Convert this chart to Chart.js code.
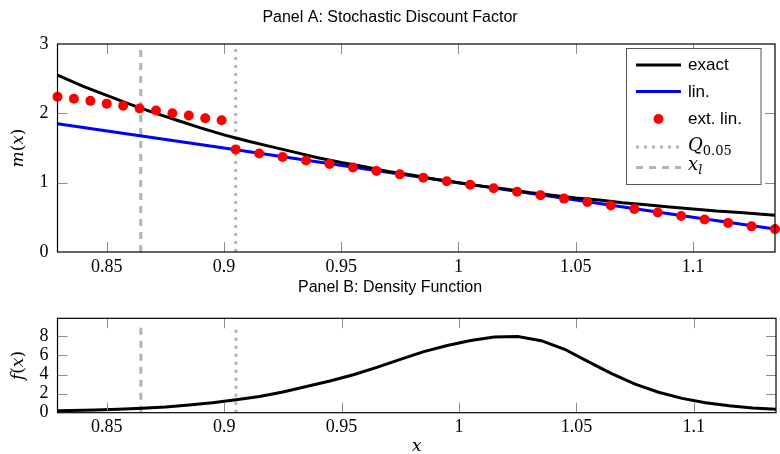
<!DOCTYPE html>
<html>
<head>
<meta charset="utf-8">
<script src="https://cdn.jsdelivr.net/npm/chart.js@4.4.1/dist/chart.umd.min.js"></script>
<style>
  body { margin: 0; background: #fff; width: 780px; height: 454px; position: relative; overflow: hidden; }
  #wrapA { position: absolute; left: 0; top: 0; width: 780px; height: 280px; }
  #wrapB { position: absolute; left: 0; top: 270px; width: 780px; height: 184px; }
</style>
</head>
<body>
<div id="wrapA"><canvas id="chartA"></canvas></div>
<div id="wrapB"><canvas id="chartB"></canvas></div>
<script>
// Axis ranges and ticks
const X_MIN = 0.829;
const X_MAX = 1.135;
const X_TICKS = [0.85, 0.9, 0.95, 1, 1.05, 1.1];
const M_MAX = 3;
const M_TICKS = [0, 1, 2, 3];
const F_MAX = 9.9;
const F_TICKS = [0, 2, 4, 6, 8];

// Panel A: exact SDF
const exactX = [0.829, 0.84, 0.85, 0.86, 0.87, 0.88, 0.89, 0.9, 0.91, 0.92, 0.93, 0.94, 0.95, 0.96, 0.97, 0.98,
                0.99, 1.0, 1.01, 1.02, 1.03, 1.04, 1.05, 1.06, 1.07, 1.08, 1.09, 1.1, 1.11, 1.12, 1.135];
const exactY = [2.55, 2.39, 2.26, 2.13, 2.01, 1.90, 1.79, 1.69, 1.60, 1.52, 1.44, 1.36, 1.29, 1.23, 1.16, 1.11,
                1.05, 1.00, 0.95, 0.91, 0.86, 0.82, 0.78, 0.75, 0.71, 0.68, 0.65, 0.62, 0.59, 0.57, 0.53];

// Panel A: linearisation
const linX = [0.829, 0.9, 1.0, 1.1, 1.135];
const linY = [1.85, 1.50, 1.00, 0.50, 0.33];

// Panel A: extended linearisation (markers)
const extX = [0.829, 0.836, 0.843, 0.85, 0.857, 0.864, 0.871, 0.878, 0.885, 0.892, 0.899,
              0.905, 0.915, 0.925, 0.935, 0.945, 0.955, 0.965, 0.975, 0.985, 0.995, 1.005, 1.015,
              1.025, 1.035, 1.045, 1.055, 1.065, 1.075, 1.085, 1.095, 1.105, 1.115, 1.125, 1.135];
const extY = [2.24, 2.21, 2.18, 2.14, 2.11, 2.07, 2.04, 2.00, 1.97, 1.93, 1.90,
              1.48, 1.42, 1.37, 1.32, 1.27, 1.22, 1.17, 1.12, 1.07, 1.02, 0.97, 0.92,
              0.87, 0.82, 0.77, 0.72, 0.67, 0.62, 0.57, 0.52, 0.47, 0.42, 0.37, 0.33];

// Panel B: density
const densX = [0.829, 0.835, 0.845, 0.855, 0.865, 0.875, 0.885, 0.895, 0.905, 0.915, 0.925, 0.935, 0.945,
               0.955, 0.965, 0.975, 0.985, 0.995, 1.005, 1.015, 1.025, 1.035, 1.045, 1.055, 1.065,
               1.075, 1.085, 1.095, 1.105, 1.115, 1.125, 1.135];
const densY = [0.20, 0.22, 0.28, 0.36, 0.47, 0.60, 0.80, 1.05, 1.36, 1.70, 2.18, 2.74, 3.32,
               3.98, 4.75, 5.60, 6.40, 7.05, 7.58, 7.95, 7.98, 7.55, 6.65, 5.35, 4.10,
               3.00, 2.15, 1.50, 1.05, 0.72, 0.50, 0.36];

// Vertical markers
const Q05 = 0.905;
const XL = 0.8645;
const VLINE_TOP_B = 9.2;

const SERIF = '"Liberation Serif", serif';
const MATH = '"DejaVu Serif", serif';
const SANS = '"Liberation Sans", sans-serif';
const GREY = '#b3b3b3';

function pts(xs, ys) {
    return xs.map((x, i) => ({ x: x, y: ys[i] }));
}

function fmt(v) {
    return String(v);
}

// Draw a run of text pieces with their own fonts
function drawParts(ctx, parts, x, y, align) {
    let w = 0;
    parts.forEach(p => { ctx.font = p.font; w += ctx.measureText(p.t).width; });
    let cx = align === 'center' ? x - w / 2 : x;
    ctx.textAlign = 'left';
    ctx.textBaseline = 'alphabetic';
    parts.forEach(p => {
        ctx.font = p.font;
        ctx.fillText(p.t, cx, y + (p.dy || 0));
        cx += ctx.measureText(p.t).width;
    });
}

const IT = 'italic 17px ' + MATH;
const RM = '17px ' + MATH;

// Frame, inner ticks, titles, legend
function decorPlugin(cfg) {
    return {
        id: 'decor',
        afterDatasetsDraw(chart) {
            const ctx = chart.ctx;
            const a = chart.chartArea;
            const xs = chart.scales.x, ys = chart.scales.y;
            ctx.save();
            ctx.strokeStyle = '#8c8c8c';
            ctx.lineWidth = 1;
            ctx.beginPath();
            X_TICKS.forEach(v => {
                const px = Math.round(xs.getPixelForValue(v)) + 0.5;
                ctx.moveTo(px, a.top); ctx.lineTo(px, a.top + 10);
                ctx.moveTo(px, a.bottom); ctx.lineTo(px, a.bottom - 10);
            });
            cfg.yTicks.forEach(v => {
                if (v === 0 || v === cfg.yMax) return;
                const py = Math.round(ys.getPixelForValue(v)) + 0.5;
                ctx.moveTo(a.left, py); ctx.lineTo(a.left + 10, py);
                ctx.moveTo(a.right, py); ctx.lineTo(a.right - 10, py);
            });
            ctx.stroke();
            ctx.strokeStyle = '#000';
            ctx.lineWidth = 1.2;
            ctx.strokeRect(a.left, a.top, a.right - a.left, a.bottom - a.top);

            ctx.fillStyle = '#000';
            ctx.font = cfg.titleSize + 'px ' + SANS;
            ctx.textAlign = 'center';
            ctx.textBaseline = 'alphabetic';
            ctx.fillText(cfg.title, 390, cfg.titleY);

            // rotated y title
            ctx.save();
            ctx.translate(23, (a.top + a.bottom) / 2);
            ctx.rotate(-Math.PI / 2);
            drawParts(ctx, [
                { t: cfg.yName, font: IT }, { t: '(', font: RM }, { t: 'x', font: IT }, { t: ')', font: RM }
            ], 0, 0, 'center');
            ctx.restore();

            if (cfg.xTitle) {
                drawParts(ctx, [{ t: 'x', font: IT }], (a.left + a.right) / 2, a.bottom + 38, 'center');
            }

            if (cfg.legend) drawLegend(ctx);
            ctx.restore();
        }
    };
}

function drawLegend(ctx) {
    const L = 626.5, T = 48.5, R = 761, B = 184.5;
    ctx.fillStyle = '#fff';
    ctx.fillRect(L, T, R - L, B - T);
    ctx.strokeStyle = '#555';
    ctx.lineWidth = 1;
    ctx.strokeRect(L, T, R - L, B - T);
    const x0 = 636, x1 = 681, tx = 688;
    const rows = [65, 91.5, 119, 147, 167.5];

    ctx.lineWidth = 3;
    ctx.setLineDash([]);
    ctx.strokeStyle = '#000';
    ctx.beginPath(); ctx.moveTo(x0, rows[0]); ctx.lineTo(x1, rows[0]); ctx.stroke();
    ctx.strokeStyle = '#0000ff';
    ctx.beginPath(); ctx.moveTo(x0, rows[1]); ctx.lineTo(x1, rows[1]); ctx.stroke();
    ctx.fillStyle = '#ff0000';
    ctx.beginPath(); ctx.arc((x0 + x1) / 2, rows[2], 5, 0, Math.PI * 2); ctx.fill();
    ctx.strokeStyle = GREY;
    ctx.setLineDash([3, 5]);
    ctx.beginPath(); ctx.moveTo(x0, rows[3]); ctx.lineTo(x1, rows[3]); ctx.stroke();
    ctx.setLineDash([7, 6]);
    ctx.beginPath(); ctx.moveTo(x0, rows[4]); ctx.lineTo(x1, rows[4]); ctx.stroke();
    ctx.setLineDash([]);

    ctx.fillStyle = '#000';
    const LF = '17px ' + SANS;
    drawParts(ctx, [{ t: 'exact', font: LF }], tx, rows[0] + 5, 'left');
    drawParts(ctx, [{ t: 'lin.', font: LF }], tx, rows[1] + 5, 'left');
    drawParts(ctx, [{ t: 'ext. lin.', font: LF }], tx, rows[2] + 5, 'left');
    drawParts(ctx, [{ t: 'Q', font: 'italic 18px ' + MATH }, { t: '0.05', font: '13px ' + MATH, dy: 4 }], tx, rows[3] + 4, 'left');
    drawParts(ctx, [{ t: 'x', font: 'italic 18px ' + MATH }, { t: 'l', font: 'italic 13px ' + MATH, dy: 4 }], tx, rows[4] + 2, 'left');
}

function xScale(height) {
    return {
        type: 'linear',
        min: X_MIN,
        max: X_MAX,
        afterBuildTicks: s => { s.ticks = X_TICKS.map(v => ({ value: v })); },
        afterFit: s => { s.height = height; },
        grid: { display: false, drawTicks: false },
        border: { display: false },
        ticks: { font: { family: SERIF, size: 18 }, color: '#000', padding: 4, maxRotation: 0, autoSkip: false, callback: fmt }
    };
}

function yScale(max, ticks) {
    return {
        type: 'linear',
        min: 0,
        max: max,
        afterBuildTicks: s => { s.ticks = ticks.map(v => ({ value: v })); },
        afterFit: s => { s.width = 57.5; },
        grid: { display: false, drawTicks: false },
        border: { display: false },
        ticks: { font: { family: SERIF, size: 18 }, color: '#000', padding: 9, autoSkip: false, callback: fmt }
    };
}

function vline(x, top, dash, order) {
    return {
        data: [{ x: x, y: 0 }, { x: x, y: top }],
        showLine: true, borderColor: GREY, borderWidth: 3, borderDash: dash,
        pointRadius: 0, order: order
    };
}

const commonOpts = {
    responsive: true,
    maintainAspectRatio: false,
    animation: false,
    events: [],
    plugins: { legend: { display: false }, tooltip: { enabled: false }, title: { display: false } }
};

// Panel A
new Chart(document.getElementById('chartA'), {
    type: 'scatter',
    data: {
        datasets: [
            vline(Q05, M_MAX, [3, 5], 4),
            vline(XL, M_MAX, [7, 6], 4),
            { data: pts(linX, linY), showLine: true, borderColor: '#0000ff', borderWidth: 3, pointRadius: 0, order: 3 },
            { data: pts(exactX, exactY), showLine: true, borderColor: '#000', borderWidth: 3, pointRadius: 0, order: 2 },
            { data: pts(extX, extY), showLine: false, backgroundColor: '#ff0000', borderWidth: 0, pointRadius: 5, clip: false, order: 1 }
        ]
    },
    options: Object.assign({}, commonOpts, {
        layout: { padding: { top: 44, right: 4, left: 0, bottom: 0 } },
        scales: { x: xScale(28), y: yScale(M_MAX, M_TICKS) }
    }),
    plugins: [decorPlugin({ title: 'Panel A: Stochastic Discount Factor', titleY: 22, titleSize: 16,
                            yName: 'm', yTicks: M_TICKS, yMax: M_MAX, legend: true, xTitle: false })]
});

// Panel B
new Chart(document.getElementById('chartB'), {
    type: 'scatter',
    data: {
        datasets: [
            vline(Q05, VLINE_TOP_B, [3, 5], 3),
            vline(XL, VLINE_TOP_B, [7, 6], 3),
            { data: pts(densX, densY), showLine: true, borderColor: '#000', borderWidth: 3, pointRadius: 0, order: 1 }
        ]
    },
    options: Object.assign({}, commonOpts, {
        layout: { padding: { top: 48.3, right: 4, left: 0, bottom: 0 } },
        scales: { x: xScale(41.3), y: yScale(F_MAX, F_TICKS) }
    }),
    plugins: [decorPlugin({ title: 'Panel B: Density Function', titleY: 21.7, titleSize: 16,
                            yName: 'f', yTicks: F_TICKS, yMax: F_MAX, legend: false, xTitle: true })]
});
</script>
</body>
</html>
